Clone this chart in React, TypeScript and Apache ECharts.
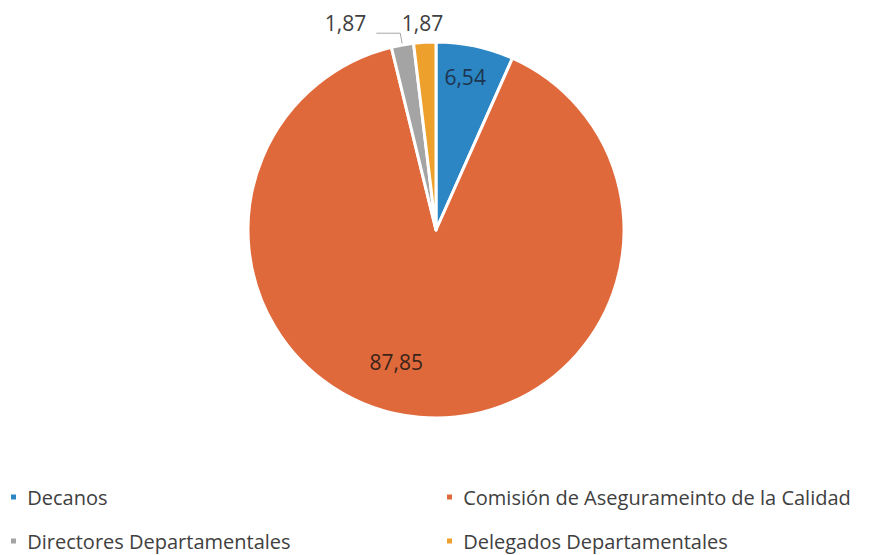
import React, { useEffect, useRef } from "react";
import * as echarts from "echarts";

const categories = [
  "Decanos",
  "Comisión de Asegurameinto de la Calidad",
  "Directores Departamentales",
  "Delegados Departamentales",
];
const values = [6.54, 87.85, 1.87, 1.87];
const labelsText = ["6,54", "87,85", "1,87", "1,87"];
const colors = ["#2b86c3", "#e0693c", "#a4a4a4", "#eda12c"];

export default function App() {
  const ref = useRef<HTMLDivElement>(null);
  useEffect(() => {
    document.body.style.margin = "0";
    const chart = echarts.init(ref.current!, null, { renderer: "svg" });
    const font = "Open Sans";
    const data = categories.map((name, i) => {
      const item: any = {
        name,
        value: values[i],
        itemStyle: { color: colors[i] },
      };
      if (i === 0) {
        item.label = { position: "inside", offset: [9, -58], color: "#1d3550" };
      } else if (i === 1) {
        item.label = { position: "inside", offset: [-31, 35], color: "#3a241a" };
      } else if (i === 2) {
        item.label = { position: "outside", color: "#404040" };
        item.labelLine = { show: true, length: 12, length2: 24, lineStyle: { color: "#a6a6a6", width: 1 } };
      } else {
        item.label = { position: "outside", color: "#404040" };
        item.labelLine = { show: false, length: 8, length2: 0 };
      }
      return item;
    });
    const legendPos = [
      { left: 9, top: 487 },
      { left: 445, top: 487 },
      { left: 9, top: 531 },
      { left: 445, top: 531 },
    ];
    const legends = categories.map((name, i) => ({
      data: [name],
      orient: "horizontal",
      left: legendPos[i].left,
      top: legendPos[i].top,
      icon: "rect",
      itemWidth: 7,
      itemHeight: 7,
      padding: 0,
      formatter: (n: string) => " " + n,
      textStyle: { fontFamily: font, fontSize: 20, color: "#404040" },
    }));
    chart.setOption({
      animation: false,
      backgroundColor: "#ffffff",
      legend: legends,
      series: [
        {
          type: "pie",
          center: [436, 230],
          radius: 188,
          startAngle: 90,
          clockwise: true,
          avoidLabelOverlap: false,
          itemStyle: { borderColor: "#ffffff", borderWidth: 3 },
          label: {
            show: true,
            fontFamily: font,
            fontSize: 21,
            formatter: (p: any) => labelsText[p.dataIndex],
          },
          labelLayout: (p: any) => {
            if (p.dataIndex === 2) return { dx: -5, dy: -10 };
            if (p.dataIndex === 3) return { dx: 24, dy: -11 };
            return {};
          },
          data,
        },
      ],
    });
    return () => chart.dispose();
  }, []);
  return <div ref={ref} style={{ width: 873, height: 555 }} />;
}
